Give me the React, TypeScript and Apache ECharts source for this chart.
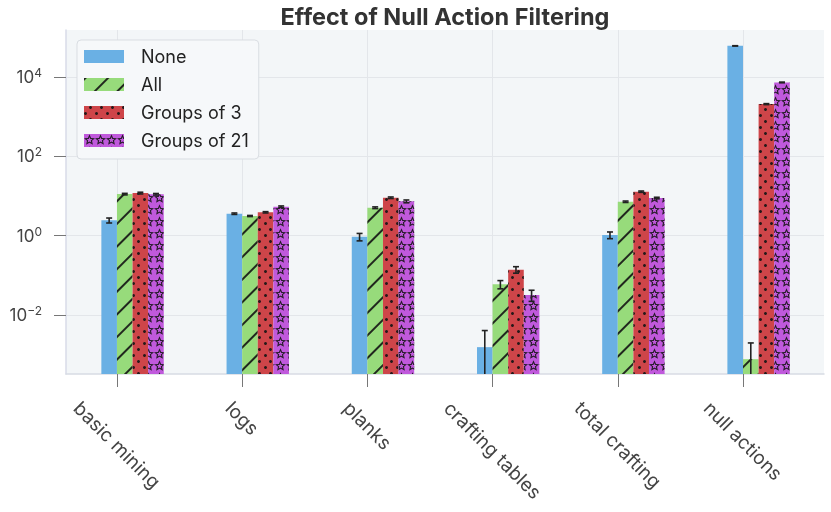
import React, { useEffect, useRef } from 'react';
import * as echarts from 'echarts';

const categories = ['basic mining', 'logs', 'planks', 'crafting tables', 'total crafting', 'null actions'];
const seriesNames = ['None', 'All', 'Groups of 3', 'Groups of 21'];
const noneValues = [2.44, 3.59, 0.94, 0.00154, 1.04, 61600];
const allValues = [11.2, 3.14, 5.08, 0.0596, 7.19, 0.000766];
const groups3Values = [11.9, 3.89, 9.08, 0.139, 12.9, 2090];
const groups21Values = [11.1, 5.38, 7.36, 0.032, 8.92, 7360];
const noneErrors = [0.35, 0.15, 0.2, 0.0025, 0.2, 600];
const allErrors = [0.5, 0.1, 0.25, 0.014, 0.3, 0.0012];
const groups3Errors = [0.6, 0.15, 0.4, 0.026, 0.5, 60];
const groups21Errors = [0.5, 0.25, 0.6, 0.01, 0.4, 150];
const yTickExponents = [-2, 0, 2, 4];

const Y_MIN = -3.49;
const Y_MAX = 5.19;
const X_MIN = -0.407;
const X_MAX = 5.647;
const BAR_W = 15.6;
const FONT = 'Inter, "Noto Sans", sans-serif';
const XLABEL_SIZE = 19;

function starPath(): string {
  const pts = (R: number, r: number) => {
    const out: number[][] = [];
    for (let i = 0; i < 10; i++) {
      const a = (-90 + i * 36) * Math.PI / 180;
      const rad = i % 2 === 0 ? R : r;
      out.push([10 + rad * Math.cos(a), 10 + rad * Math.sin(a)]);
    }
    return out;
  };
  const outer = pts(10, 4.6);
  const inner = pts(5.4, 2.3).reverse();
  const f = (p: number[]) => p[0].toFixed(2) + ' ' + p[1].toFixed(2);
  return 'path://M' + outer.map(f).join(' L') + ' Z M' + inner.map(f).join(' L') + ' Z';
}

export default function App() {
  const ref = useRef<HTMLDivElement>(null);
  useEffect(() => {
    if (!ref.current) return;
    const chart = echarts.init(ref.current, undefined, { renderer: 'svg' });
    const values = [noneValues, allValues, groups3Values, groups21Values];
    const errors = [noneErrors, allErrors, groups3Errors, groups21Errors];
    const colors = ['#6AB0E4', '#97DB7B', '#CE4549', '#C059DC'];
    const decalColor = 'rgba(20,20,20,0.9)';
    const decals: any[] = [
      undefined,
      { symbol: 'rect', symbolSize: 1, dashArrayX: [1, 0], dashArrayY: [1.2, 14], rotation: -Math.PI / 4, color: decalColor },
      { symbol: 'circle', symbolSize: 1, dashArrayX: [[2.7, 7.3], [0, 5, 2.7, 2.3]], dashArrayY: [2.7, 2.7], color: decalColor },
      { symbol: starPath(), symbolSize: 1, dashArrayX: [[10.5, 0]], dashArrayY: [10.5, 0.3], color: decalColor },
    ];

    const ctx = document.createElement('canvas').getContext('2d')!;
    ctx.font = XLABEL_SIZE + 'px Inter';
    const widths = categories.map((c) => ctx.measureText(c).width);
    const xRich: any = {};
    widths.forEach((w, i) => {
      xRich['c' + i] = { padding: [w * 0.5, 0, 0, w * 0.5], fontSize: XLABEL_SIZE, color: '#444', fontFamily: FONT };
    });

    const padSeries = [0, 1].map((p) => ({
      type: 'bar', name: '_pad' + p, data: [], barWidth: BAR_W, barGap: '0%',
    }));
    const barSeries = seriesNames.map((name, k) => ({
      type: 'bar',
      name,
      barWidth: BAR_W,
      barGap: '0%',
      data: values[k].map((v, i) => [i, Math.log10(v)]),
      itemStyle: { color: colors[k], decal: decals[k] },
    }));

    const errData: number[][] = [];
    values.forEach((vals, k) => vals.forEach((v, i) => errData.push([i, Math.log10(v), k, v, errors[k][i]])));

    const errSeries = {
      type: 'custom',
      name: '_err',
      data: errData,
      encode: { x: 0, y: 1 },
      clip: false,
      z: 10,
      renderItem: (params: any, api: any) => {
        const i = api.value(0);
        const k = api.value(2);
        const v = api.value(3);
        const e = api.value(4);
        const hi = v + e;
        const lo = v - e;
        const pTop = api.coord([i, Math.log10(hi)]);
        const x = pTop[0] + (k - 0.5) * BAR_W;
        const yTop = pTop[1];
        const clipped = lo <= 0 || Math.log10(lo) < Y_MIN;
        const yBot = clipped ? api.coord([i, Y_MIN])[1] : api.coord([i, Math.log10(lo)])[1];
        const style = { stroke: '#222', lineWidth: 1.6 };
        const cap = 3;
        const children: any[] = [
          { type: 'line', shape: { x1: x, y1: yTop, x2: x, y2: yBot }, style },
          { type: 'line', shape: { x1: x - cap, y1: yTop, x2: x + cap, y2: yTop }, style },
        ];
        if (!clipped) children.push({ type: 'line', shape: { x1: x - cap, y1: yBot, x2: x + cap, y2: yBot }, style });
        return { type: 'group', children };
      },
    };

    chart.setOption({
      animation: false,
      title: {
        text: 'Effect of Null Action Filtering',
        left: 440,
        top: -1,
        textAlign: 'center',
        textStyle: { fontSize: 23.5, fontWeight: 'bold', color: '#333', fontFamily: FONT },
      },
      legend: {
        data: seriesNames,
        orient: 'vertical',
        left: 77,
        top: 40,
        icon: 'rect',
        itemWidth: 40,
        itemHeight: 13,
        itemGap: 7,
        padding: [6, 10, 8, 7],
        backgroundColor: '#f6f8fa',
        borderColor: '#d9dde2',
        borderWidth: 1,
        borderRadius: 4,
        textStyle: { fontSize: 18, color: '#222', fontFamily: FONT, padding: [0, 0, 0, 12], lineHeight: 21 },
      },
      grid: { left: 66, right: 7, top: 30, bottom: 138, show: true, backgroundColor: '#f3f6f8', borderWidth: 0 },
      xAxis: {
        type: 'value',
        min: X_MIN,
        max: X_MAX,
        axisLine: { show: true, onZero: false, lineStyle: { color: '#d8dbe4', width: 1.5 } },
        axisTick: { show: true, length: 13, customValues: [0, 1, 2, 3, 4, 5], lineStyle: { color: '#777' } },
        axisLabel: {
          customValues: [0, 1, 2, 3, 4, 5],
          rotate: -45,
          align: 'center',
          verticalAlign: 'middle',
          margin: 31,
          formatter: (v: number) => '{c' + v + '|' + categories[v] + '}',
          rich: xRich,
        },
        splitLine: { show: true, lineStyle: { color: '#e3e6ea' } },
      },
      yAxis: {
        type: 'value',
        min: Y_MIN,
        max: Y_MAX,
        startValue: Y_MIN,
        axisLine: { show: true, onZero: false, lineStyle: { color: '#d8dbe8', width: 1.5 } },
        axisTick: { show: true, length: 12, customValues: yTickExponents, lineStyle: { color: '#777' } },
        axisLabel: {
          customValues: yTickExponents,
          margin: 24,
          formatter: (v: number) => '{b|10}{s|' + (v < 0 ? '\u2212' + -v : v) + '}',
          rich: {
            b: { fontSize: 17, color: '#444', fontFamily: FONT },
            s: { fontSize: 12, color: '#444', fontFamily: FONT, padding: [0, 0, 9, 0] },
          },
        },
        splitLine: { show: true, lineStyle: { color: '#e3e6ea' } },
      },
      series: [...padSeries, ...barSeries, errSeries],
    });
    return () => chart.dispose();
  }, []);
  return <div ref={ref} style={{ position: 'fixed', left: 0, top: 0, width: 831, height: 512 }} />;
}
